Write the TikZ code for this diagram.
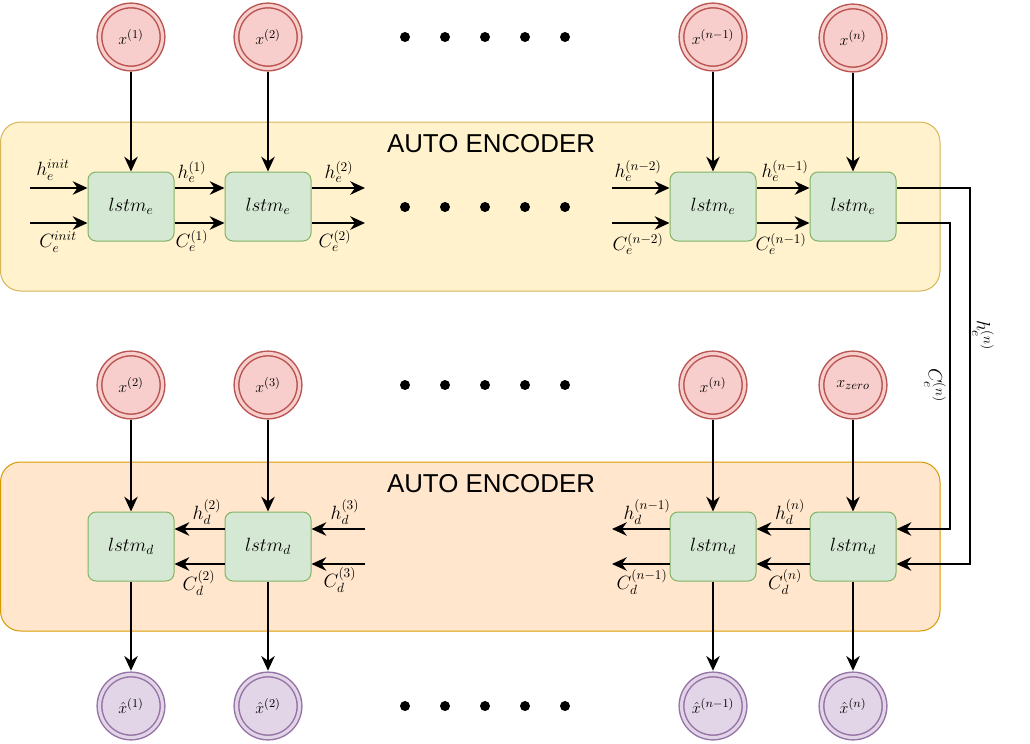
\documentclass[tikz,border=0pt]{standalone}
\usepackage{fontspec}
\newfontfamily\titlefont{Liberation Sans}
\usetikzlibrary{arrows.meta}

\definecolor{infill}{HTML}{F8CECC}
\definecolor{inline}{HTML}{B85450}
\definecolor{outfill}{HTML}{E1D5E7}
\definecolor{outline}{HTML}{9673A6}
\definecolor{cellfill}{HTML}{D5E8D4}
\definecolor{cellline}{HTML}{82B366}
\definecolor{encfill}{HTML}{FFF2CC}
\definecolor{encline}{HTML}{D6B656}
\definecolor{decfill}{HTML}{FFE6CC}
\definecolor{decline}{HTML}{D79B00}

\tikzset{
  inp/.style={circle, draw=inline, fill=infill, double=infill, line width=1.1pt,
    double distance=2.4pt, minimum size=47.25pt, inner sep=0pt,
    font=\fontsize{13}{15}\selectfont},
  outp/.style={inp, draw=outline, fill=outfill, double=outfill},
  cell/.style={rectangle, rounded corners=6pt, draw=cellline, fill=cellfill,
    line width=0.75pt, minimum width=64.5pt, minimum height=51.75pt,
    inner sep=0pt, font=\fontsize{14.4}{17}\selectfont},
  lab/.style={inner sep=0pt, font=\fontsize{14.4}{17}\selectfont},
  panel/.style={rounded corners=15pt, line width=0.75pt},
  wire/.style={->, line width=1.9pt},
}

\begin{document}
\begin{tikzpicture}[x=0.75pt, y=-0.75pt, >={Stealth[length=11pt,width=10pt,inset=3.5pt]}]
  \useasboundingbox (0,0) rectangle (1030,743);

  % Πλαίσια
  \filldraw[panel, fill=encfill, draw=encline] (0.5,122) rectangle (940,291);
  \filldraw[panel, fill=decfill, draw=decline] (0.5,462) rectangle (940,631);
  \node[font=\titlefont\fontsize{19.4}{22}\selectfont] (enctitle) at (491,144) {AUTO ENCODER};
  \node[font=\titlefont\fontsize{19.4}{22}\selectfont] (dectitle) at (491,484) {AUTO ENCODER};

  % Είσοδοι κωδικοποιητή
  \node[inp] (xa) at (131,37) {$x^{(1)}$};
  \node[inp] (xb) at (268,37) {$x^{(2)}$};
  \node[inp] (xc) at (713,37) {$x^{(n-1)}$};
  \node[inp] (xd) at (853,38) {$x^{(n)}$};

  % Κελιά κωδικοποιητή
  \node[cell] (ea) at (131,206.5) {$lstm_e$};
  \node[cell] (eb) at (268,206.5) {$lstm_e$};
  \node[cell] (ec) at (713,206.5) {$lstm_e$};
  \node[cell] (ed) at (853,206.5) {$lstm_e$};

  % Είσοδοι αποκωδικοποιητή
  \node[inp] (ya) at (131,385) {$x^{(2)}$};
  \node[inp] (yb) at (268,385) {$x^{(3)}$};
  \node[inp] (yc) at (713,385) {$x^{(n)}$};
  \node[inp] (yd) at (853,385) {$x_{zero}$};

  % Κελιά αποκωδικοποιητή
  \node[cell] (da) at (131,546.5) {$lstm_d$};
  \node[cell] (db) at (268,546.5) {$lstm_d$};
  \node[cell] (dc) at (713,546.5) {$lstm_d$};
  \node[cell] (dd) at (853,546.5) {$lstm_d$};

  % Έξοδοι
  \node[outp] (za) at (131,706) {$\hat{x}^{(1)}$};
  \node[outp] (zb) at (268,706) {$\hat{x}^{(2)}$};
  \node[outp] (zc) at (713,706) {$\hat{x}^{(n-1)}$};
  \node[outp] (zd) at (853,706) {$\hat{x}^{(n)}$};

  % Γραμμές h και C
  \coordinate (hE) at (0,188);
  \coordinate (cE) at (0,223);
  \coordinate (hD) at (0,529);
  \coordinate (cD) at (0,564);
  \coordinate (ein) at (30,0);
  \coordinate (eout) at (365,0);
  \coordinate (emid) at (612,0);
  \coordinate (hturn) at (970,0);
  \coordinate (cturn) at (950,0);

  % Βέλη κωδικοποιητή
  \draw[wire] (ein |- hE) -- (ea.west |- hE);
  \draw[wire] (ein |- cE) -- (ea.west |- cE);
  \draw[wire] (ea.east |- hE) -- (eb.west |- hE);
  \draw[wire] (ea.east |- cE) -- (eb.west |- cE);
  \draw[wire] (eb.east |- hE) -- (eout |- hE);
  \draw[wire] (eb.east |- cE) -- (eout |- cE);
  \draw[wire] (emid |- hE) -- (ec.west |- hE);
  \draw[wire] (emid |- cE) -- (ec.west |- cE);
  \draw[wire] (ec.east |- hE) -- (ed.west |- hE);
  \draw[wire] (ec.east |- cE) -- (ed.west |- cE);

  % Από τον κωδικοποιητή στον αποκωδικοποιητή
  \draw[wire] (ed.east |- hE) -- (hturn |- hE) -- (hturn |- cD) -- (dd.east |- cD);
  \draw[wire] (ed.east |- cE) -- (cturn |- cE) -- (cturn |- hD) -- (dd.east |- hD);

  % Βέλη αποκωδικοποιητή
  \draw[wire] (eout |- hD) -- (db.east |- hD);
  \draw[wire] (eout |- cD) -- (db.east |- cD);
  \draw[wire] (db.west |- hD) -- (da.east |- hD);
  \draw[wire] (db.west |- cD) -- (da.east |- cD);
  \draw[wire] (dd.west |- hD) -- (dc.east |- hD);
  \draw[wire] (dd.west |- cD) -- (dc.east |- cD);
  \draw[wire] (dc.west |- hD) -- (emid |- hD);
  \draw[wire] (dc.west |- cD) -- (emid |- cD);

  % Κάθετα βέλη
  \draw[wire, shorten <=2.25pt] (xa) -- (ea);
  \draw[wire, shorten <=2.25pt] (xb) -- (eb);
  \draw[wire, shorten <=2.25pt] (xc) -- (ec);
  \draw[wire, shorten <=2.25pt] (xd) -- (ed);
  \draw[wire, shorten <=2.25pt] (ya) -- (da);
  \draw[wire, shorten <=2.25pt] (yb) -- (db);
  \draw[wire, shorten <=2.25pt] (yc) -- (dc);
  \draw[wire, shorten <=2.25pt] (yd) -- (dd);
  \draw[wire, shorten >=2.25pt] (da) -- (za);
  \draw[wire, shorten >=2.25pt] (db) -- (zb);
  \draw[wire, shorten >=2.25pt] (dc) -- (zc);
  \draw[wire, shorten >=2.25pt] (dd) -- (zd);

  % Τελείες
  \foreach \y in {37,207,385,706}
    \foreach \x in {405,445,485,525,565}
      \fill (\x,\y) circle[radius=3.75pt];

  % Ετικέτες
  \node[lab] (lhin) at (53,170) {$h_e^{init}$};
  \node[lab] (lcin) at (58,242) {$C_e^{init}$};
  \node[lab] (lh1) at (192,172) {$h_e^{(1)}$};
  \node[lab] (lc1) at (192,241) {$C_e^{(1)}$};
  \node[lab] (lh2) at (339,172) {$h_e^{(2)}$};
  \node[lab] (lc2) at (335,241) {$C_e^{(2)}$};
  \node[lab] (lhn2) at (638,171) {$h_e^{(n-2)}$};
  \node[lab] (lcn2) at (638,244) {$C_e^{(n-2)}$};
  \node[lab] (lhn1) at (785,171) {$h_e^{(n-1)}$};
  \node[lab] (lcn1) at (781,244) {$C_e^{(n-1)}$};
  \node[lab, rotate=-90] (lhn) at (983,335) {$h_e^{(n)}$};
  \node[lab, rotate=-90] (lcn) at (935,385) {$C_e^{(n)}$};
  \node[lab] (dh2) at (207,512) {$h_d^{(2)}$};
  \node[lab] (dc2) at (199,583) {$C_d^{(2)}$};
  \node[lab] (dh3) at (345,512) {$h_d^{(3)}$};
  \node[lab] (dc3) at (340,580) {$C_d^{(3)}$};
  \node[lab] (dhn1) at (647,512) {$h_d^{(n-1)}$};
  \node[lab] (dcn1) at (642,582) {$C_d^{(n-1)}$};
  \node[lab] (dhn) at (790,512) {$h_d^{(n)}$};
  \node[lab] (dcn) at (785,582) {$C_d^{(n)}$};

\end{tikzpicture}
\end{document}
